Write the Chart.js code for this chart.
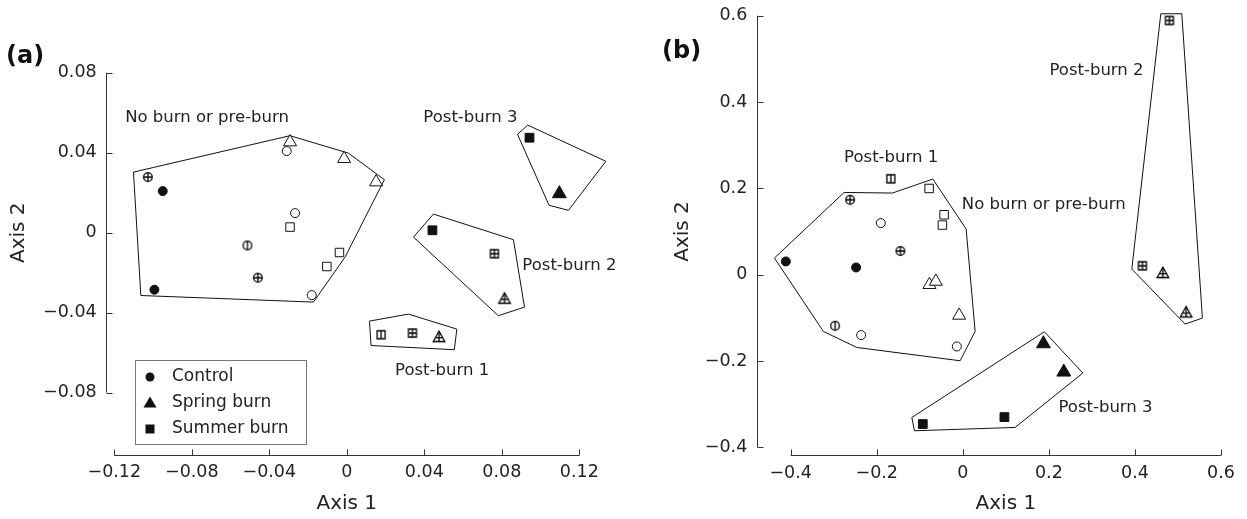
<!DOCTYPE html>
<html>
<head>
<meta charset="utf-8">
<script src="https://cdn.jsdelivr.net/npm/chart.js@4.4.0/dist/chart.umd.min.js"></script>
<style>
  html, body { margin: 0; padding: 0; background: #fff; }
  #wrap { position: relative; width: 1247px; height: 519px; }
  #chartA { position: absolute; left: 0; top: 0; }
  #chartB { position: absolute; left: 640px; top: 0; }
</style>
</head>
<body>
<div id="wrap">
  <canvas id="chartA" width="640" height="519"></canvas>
  <canvas id="chartB" width="607" height="519"></canvas>
</div>
<script>
// ---------- panel (a) ----------
const xTicksA = [-0.12, -0.08, -0.04, 0, 0.04, 0.08, 0.12];
const xTickLabelsA = ['\u22120.12', '\u22120.08', '\u22120.04', '0', '0.04', '0.08', '0.12'];
const yTicksA = [-0.08, -0.04, 0, 0.04, 0.08];
const yTickLabelsA = ['\u22120.08', '\u22120.04', '0', '0.04', '0.08'];

const controlFilledA = [[-0.095, 0.0208], [-0.0993, -0.0285]];
const controlOpenA = [[-0.031, 0.0408], [-0.0267, 0.0098], [-0.0181, -0.0312]];
const controlPlusA = [[-0.1027, 0.0278], [-0.0459, -0.0225]];
const controlBarA = [[-0.0513, -0.0064]];
const springFilledA = [[0.1261, 0.0348], [0.1097, 0.0195]];
const springOpenA = [[-0.0293, 0.0453], [-0.0014, 0.037], [0.0151, 0.0253]];
const springPlusA = [[0.0814, -0.033], [0.0476, -0.0522]];
const summerFilledA = [[0.0943, 0.0475], [0.0442, 0.0012]];
const summerOpenA = [[-0.0293, 0.0028], [-0.0038, -0.0099], [-0.0103, -0.0169]];
const summerPlusA = [[0.0762, -0.0105], [0.0339, -0.0502]];
const summerBarA = [[0.0177, -0.051]];

const hullNoBurnA = [[-0.1101, 0.0303], [-0.0293, 0.0485], [0.0008, 0.0398], [0.0194, 0.0265],
  [-0.0009, -0.0122], [-0.0172, -0.0347], [-0.1063, -0.0314]];
const hullPost3A = [[0.0881, 0.0492], [0.0934, 0.0538], [0.1337, 0.0357], [0.1144, 0.0112], [0.1044, 0.0137]];
const hullPost2A = [[0.0447, 0.0093], [0.086, -0.0035], [0.0917, -0.0372], [0.0782, -0.0415], [0.0344, -0.0022]];
const hullPost1A = [[0.0117, -0.0442], [0.0318, -0.0407], [0.0568, -0.0482], [0.0555, -0.0585], [0.0125, -0.0564]];

const groupNamesA = ['No burn or pre-burn', 'Post-burn 3', 'Post-burn 2', 'Post-burn 1'];
const groupAnchorsA = [[-0.1144, 0.0577], [0.0395, 0.0577], [0.0906, -0.0167], [0.0249, -0.0689]];

// ---------- panel (b) ----------
const xTicksB = [-0.4, -0.2, 0, 0.2, 0.4, 0.6];
const xTickLabelsB = ['\u22120.4', '\u22120.2', '0', '0.2', '0.4', '0.6'];
const yTicksB = [-0.4, -0.2, 0, 0.2, 0.4, 0.6];
const yTickLabelsB = ['\u22120.4', '\u22120.2', '0', '0.2', '0.4', '0.6'];

const controlFilledB = [[-0.4113, 0.0306], [-0.248, 0.0167]];
const controlOpenB = [[-0.1906, 0.1196], [-0.2363, -0.14], [-0.0139, -0.1664]];
const controlPlusB = [[-0.2619, 0.1735], [-0.145, 0.0547]];
const controlBarB = [[-0.2968, -0.1184]];
const springFilledB = [[0.1873, -0.1601], [0.2347, -0.2257]];
const springOpenB = [[-0.0776, -0.0234], [-0.0627, -0.0158], [-0.0086, -0.0945]];
const springPlusB = [[0.4648, 0.0037], [0.5189, -0.0876]];
const summerFilledB = [[-0.093, -0.3462], [0.0967, -0.33]];
const summerOpenB = [[-0.0783, 0.1997], [-0.0435, 0.1388], [-0.0474, 0.1149]];
const summerPlusB = [[0.4801, 0.589], [0.4174, 0.0206]];
const summerBarB = [[-0.1673, 0.2222]];

const hullNoBurnB = [[-0.4378, 0.0385], [-0.2759, 0.1905], [-0.1636, 0.1891], [-0.0697, 0.2215],
  [0.0077, 0.1057], [0.0286, -0.1316], [-0.0063, -0.1995], [-0.2463, -0.1687], [-0.324, -0.1316]];
const hullPost3B = [[0.1896, -0.1323], [0.2789, -0.228], [0.1215, -0.354], [-0.1125, -0.3617], [-0.1185, -0.3309]];
const hullPost2B = [[0.4601, 0.6045], [0.5089, 0.6045], [0.5568, -0.1006], [0.5166, -0.1145], [0.3927, 0.013]];

const groupNamesB = ['Post-burn 1', 'No burn or pre-burn', 'Post-burn 2', 'Post-burn 3'];
const groupAnchorsB = [[-0.2759, 0.2709], [-0.0023, 0.162], [0.2013, 0.4731], [0.2222, -0.3091]];

const legendLabels = ['Control', 'Spring burn', 'Summer burn'];

const FONT = "'DejaVu Sans', sans-serif";
const INK = '#111';

// small drawn markers for the symbols Chart.js has no style for
function marker(kind) {
  const s = 18, c = 9;
  const cv = document.createElement('canvas');
  cv.width = s; cv.height = s;
  const g = cv.getContext('2d');
  g.strokeStyle = '#000'; g.fillStyle = '#fff'; g.lineWidth = 1.3;
  g.beginPath();
  if (kind === 'circlePlus' || kind === 'circleBar') {
    g.arc(c, c, 4.3, 0, Math.PI * 2);
    g.fill(); g.stroke();
    g.beginPath();
    g.moveTo(c, c - 4.3); g.lineTo(c, c + 4.3);
    if (kind === 'circlePlus') { g.moveTo(c - 4.3, c); g.lineTo(c + 4.3, c); }
    g.stroke();
  } else if (kind === 'squarePlus' || kind === 'squareBar') {
    g.rect(c - 4, c - 4, 8, 8);
    g.fill(); g.stroke();
    g.beginPath();
    g.moveTo(c, c - 4); g.lineTo(c, c + 4);
    if (kind === 'squarePlus') { g.moveTo(c - 4, c); g.lineTo(c + 4, c); }
    g.stroke();
  } else if (kind === 'trianglePlus') {
    g.moveTo(c, c - 6); g.lineTo(c + 5.8, c + 4.5); g.lineTo(c - 5.8, c + 4.5); g.closePath();
    g.fill(); g.stroke();
    g.beginPath();
    g.moveTo(c, c - 6); g.lineTo(c, c + 4.5);
    g.moveTo(c - 3.6, c + 0.6); g.lineTo(c + 3.6, c + 0.6);
    g.stroke();
  }
  return cv;
}

const toXY = arr => arr.map(p => ({ x: p[0], y: p[1] }));

function pts(data, style, radius, filled) {
  return {
    data: toXY(data), pointStyle: style, pointRadius: radius,
    backgroundColor: filled ? INK : '#fff', borderColor: INK, pointBorderWidth: 1,
    showLine: false, order: 1, clip: false
  };
}
function hull(data) {
  const d = toXY(data);
  d.push(d[0]);
  return {
    data: d, showLine: true, pointRadius: 0, borderColor: INK, borderWidth: 1,
    tension: 0, fill: false, order: 2, clip: false
  };
}

function decor(cfg) {
  return {
    id: 'decor' + cfg.letter,
    afterDraw(chart) {
      const ctx = chart.ctx, xs = chart.scales.x, ys = chart.scales.y, area = chart.chartArea;
      ctx.save();
      ctx.strokeStyle = '#333'; ctx.lineWidth = 1;
      // offset axis lines with inward ticks
      const ax = Math.round(area.left - cfg.yAxisGap) + 0.5;
      const yTop = ys.getPixelForValue(cfg.yTicks[cfg.yTicks.length - 1]);
      const yBot = ys.getPixelForValue(cfg.yTicks[0]);
      ctx.beginPath();
      ctx.moveTo(ax, yTop); ctx.lineTo(ax, yBot);
      cfg.yTicks.forEach(v => {
        const p = Math.round(ys.getPixelForValue(v)) + 0.5;
        ctx.moveTo(ax, p); ctx.lineTo(ax + 6, p);
      });
      const ay = Math.round(area.bottom + cfg.xAxisGap) + 0.5;
      const xl = xs.getPixelForValue(cfg.xTicks[0]);
      const xr = xs.getPixelForValue(cfg.xTicks[cfg.xTicks.length - 1]);
      ctx.moveTo(xl, ay); ctx.lineTo(xr, ay);
      cfg.xTicks.forEach(v => {
        const p = Math.round(xs.getPixelForValue(v)) + 0.5;
        ctx.moveTo(p, ay); ctx.lineTo(p, ay - 6);
      });
      ctx.stroke();

      // group names
      ctx.fillStyle = '#222';
      ctx.font = '16.5px ' + FONT;
      ctx.textAlign = 'left'; ctx.textBaseline = 'middle';
      cfg.names.forEach((t, i) => {
        ctx.fillText(t, xs.getPixelForValue(cfg.anchors[i][0]), ys.getPixelForValue(cfg.anchors[i][1]));
      });

      // panel letter
      ctx.font = 'bold 24px ' + FONT;
      ctx.fillStyle = '#111';
      ctx.fillText('(' + cfg.letter + ')', cfg.letterPos[0], cfg.letterPos[1]);

      // legend box
      if (cfg.legend) {
        const L = cfg.legend;
        ctx.strokeStyle = '#777';
        ctx.strokeRect(L.x + 0.5, L.y + 0.5, L.w, L.h);
        ctx.fillStyle = INK;
        legendLabels.forEach((t, i) => {
          const cy = L.y + 17 + i * 26, cx = L.x + 15;
          ctx.beginPath();
          if (i === 0) ctx.arc(cx, cy, 4.5, 0, Math.PI * 2);
          else if (i === 1) { ctx.moveTo(cx, cy - 6.5); ctx.lineTo(cx + 6.5, cy + 4.5); ctx.lineTo(cx - 6.5, cy + 4.5); ctx.closePath(); }
          else ctx.rect(cx - 4.5, cy - 4.5, 9, 9);
          ctx.fill();
          ctx.font = '17px ' + FONT;
          ctx.fillStyle = '#222';
          ctx.fillText(t, L.x + 37, cy);
          ctx.fillStyle = INK;
        });
      }
      ctx.restore();
    }
  };
}

// the big tick paddings would otherwise leak into the layout's edge padding
function clearEdgePadding(s) {
  s.paddingTop = 0; s.paddingBottom = 0; s.paddingLeft = 0; s.paddingRight = 0;
}

function buildChart(id, cfg) {
  const tickFont = { family: FONT, size: 17.5 };
  const titleFont = { family: FONT, size: 20 };
  return new Chart(document.getElementById(id), {
    type: 'scatter',
    data: {
      datasets: [
        pts(cfg.sets.controlFilled, 'circle', 4.5, true),
        pts(cfg.sets.controlOpen, 'circle', 4.5, false),
        pts(cfg.sets.controlPlus, marker('circlePlus'), 5, false),
        pts(cfg.sets.controlBar, marker('circleBar'), 5, false),
        pts(cfg.sets.springFilled, 'triangle', 8, true),
        pts(cfg.sets.springOpen, 'triangle', 7.5, false),
        pts(cfg.sets.springPlus, marker('trianglePlus'), 6, false),
        pts(cfg.sets.summerFilled, 'rect', 6.2, true),
        pts(cfg.sets.summerOpen, 'rect', 6, false),
        pts(cfg.sets.summerPlus, marker('squarePlus'), 5, false),
        pts(cfg.sets.summerBar, marker('squareBar'), 5, false),
        ...cfg.hulls.map(hull)
      ]
    },
    options: {
      responsive: false,
      animation: false,
      layout: { padding: cfg.padding },
      plugins: { legend: { display: false }, tooltip: { enabled: false } },
      scales: {
        x: {
          type: 'linear', min: cfg.xTicks[0], max: cfg.xTicks[cfg.xTicks.length - 1],
          afterBuildTicks: s => { s.ticks = cfg.xTicks.map(v => ({ value: v })); },
          afterFit: s => { s.height = cfg.xScaleHeight; clearEdgePadding(s); },
          ticks: {
            callback: (v, i) => cfg.xLabels[i], padding: cfg.xTickPad, font: tickFont, color: '#222',
            autoSkip: false, maxRotation: 0
          },
          grid: { display: false, drawTicks: false },
          border: { display: false },
          title: { display: true, text: 'Axis 1', font: titleFont, color: '#222', padding: { top: 4, bottom: 3 } }
        },
        y: {
          type: 'linear', min: cfg.yTicks[0], max: cfg.yTicks[cfg.yTicks.length - 1],
          afterBuildTicks: s => { s.ticks = cfg.yTicks.map(v => ({ value: v })); },
          afterFit: s => { s.width = cfg.yScaleWidth; clearEdgePadding(s); },
          ticks: {
            callback: (v, i) => cfg.yLabels[i], padding: cfg.yTickPad, font: tickFont, color: '#222',
            autoSkip: false
          },
          grid: { display: false, drawTicks: false },
          border: { display: false },
          title: { display: true, text: 'Axis 2', font: titleFont, color: '#222', padding: { top: 7, bottom: 3 } }
        }
      }
    },
    plugins: [decor(cfg)]
  });
}

buildChart('chartA', {
  letter: 'a', letterPos: [6, 57],
  xTicks: xTicksA, xLabels: xTickLabelsA, yTicks: yTicksA, yLabels: yTickLabelsA,
  padding: { top: 72.7, left: 0, right: 60.7, bottom: 0 },
  xScaleHeight: 126.3, yScaleWidth: 114.3, xTickPad: 69.5, yTickPad: 17.6,
  yAxisGap: 8.3, xAxisGap: 62.3,
  sets: {
    controlFilled: controlFilledA, controlOpen: controlOpenA, controlPlus: controlPlusA, controlBar: controlBarA,
    springFilled: springFilledA, springOpen: springOpenA, springPlus: springPlusA,
    summerFilled: summerFilledA, summerOpen: summerOpenA, summerPlus: summerPlusA, summerBar: summerBarA
  },
  hulls: [hullNoBurnA, hullPost3A, hullPost2A, hullPost1A],
  names: groupNamesA, anchors: groupAnchorsA,
  legend: { x: 135, y: 360, w: 171, h: 84 }
});

buildChart('chartB', {
  letter: 'b', letterPos: [22, 52],
  xTicks: xTicksB, xLabels: xTickLabelsB, yTicks: yTicksB, yLabels: yTickLabelsB,
  padding: { top: 15.7, left: 23.5, right: 26, bottom: 0 },
  xScaleHeight: 71.7, yScaleWidth: 127.2, xTickPad: 15.2, yTickPad: 43.4,
  yAxisGap: 34, xAxisGap: 7.7,
  sets: {
    controlFilled: controlFilledB, controlOpen: controlOpenB, controlPlus: controlPlusB, controlBar: controlBarB,
    springFilled: springFilledB, springOpen: springOpenB, springPlus: springPlusB,
    summerFilled: summerFilledB, summerOpen: summerOpenB, summerPlus: summerPlusB, summerBar: summerBarB
  },
  hulls: [hullNoBurnB, hullPost3B, hullPost2B],
  names: groupNamesB, anchors: groupAnchorsB,
  legend: null
});
</script>
</body>
</html>
